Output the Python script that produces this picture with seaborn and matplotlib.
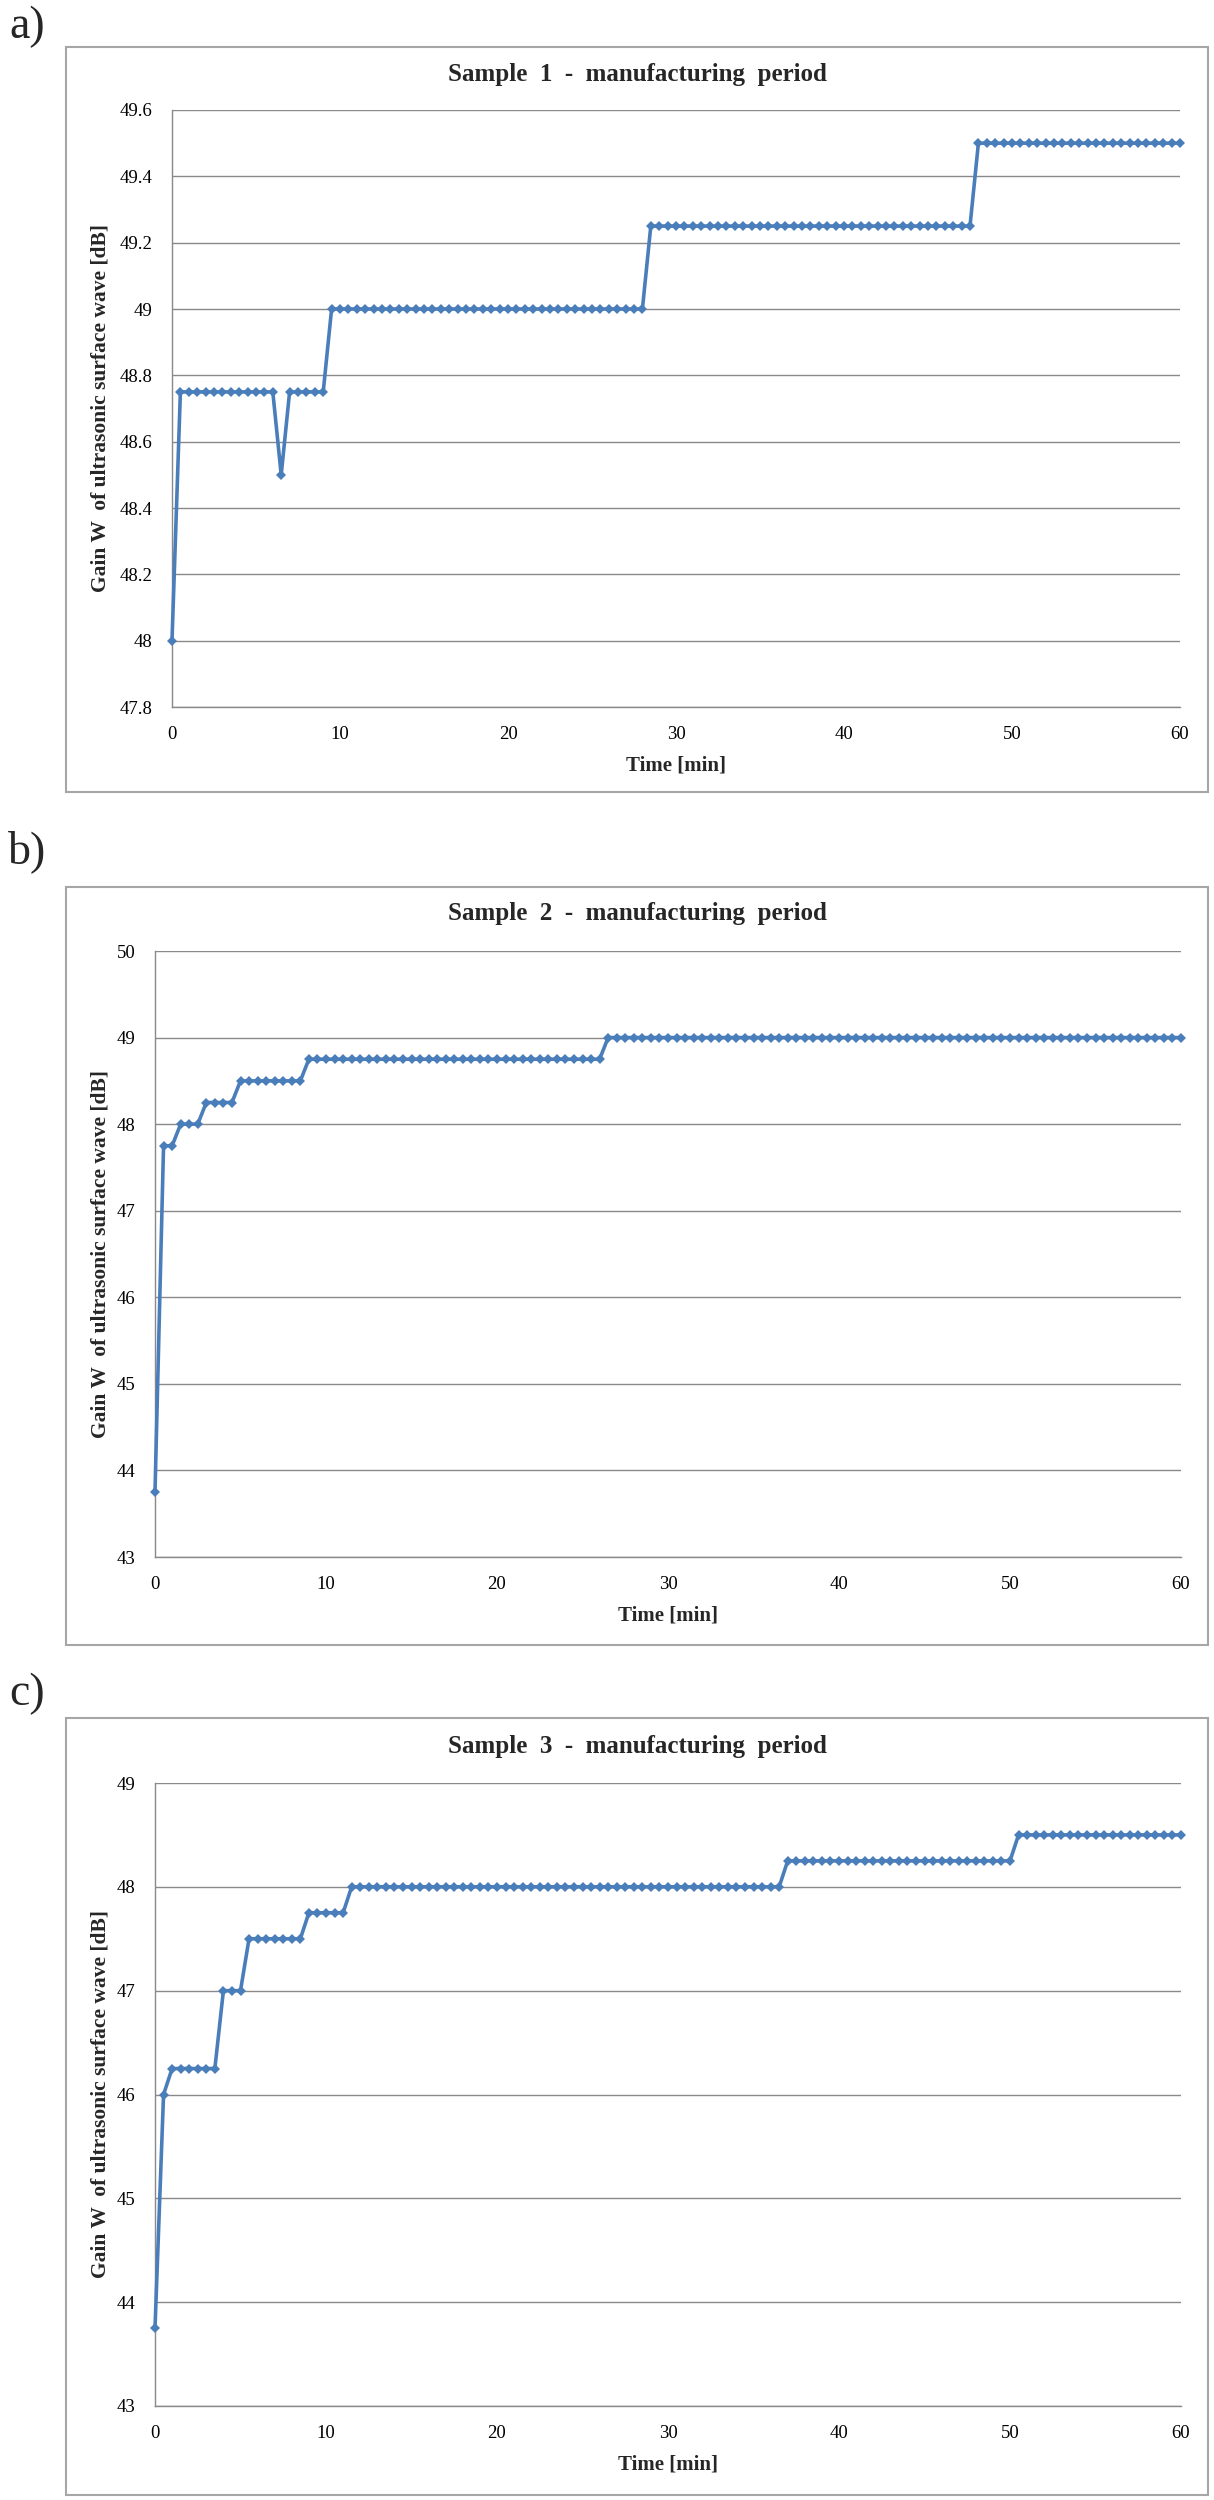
import numpy as np
import pandas as pd
import matplotlib
matplotlib.use("Agg")
import matplotlib.pyplot as plt
from matplotlib.patches import Rectangle
import seaborn as sns

# one reading every 0.5 min over the hour
time_min = np.linspace(0, 60, 121)

# gain levels [dB] and the number of consecutive readings on each level
s1_levels = [48.0, 48.75, 48.5, 48.75, 49.0, 49.25, 49.5]
s1_counts = [1, 12, 1, 5, 38, 39, 25]

s2_levels = [43.75, 47.75, 48.0, 48.25, 48.5, 48.75, 49.0]
s2_counts = [1, 2, 3, 4, 8, 35, 68]

s3_levels = [43.75, 46.0, 46.25, 47.0, 47.5, 47.75, 48.0, 48.25, 48.5]
s3_counts = [1, 1, 6, 3, 7, 5, 51, 27, 20]

titles = ["Sample  1  -  manufacturing  period",
          "Sample  2  -  manufacturing  period",
          "Sample  3  -  manufacturing  period"]
panel_letters = ["a)", "b)", "c)"]

x_ticks = [0, 10, 20, 30, 40, 50, 60]
s1_yticks = [47.8, 48.0, 48.2, 48.4, 48.6, 48.8, 49.0, 49.2, 49.4, 49.6]
s1_yticklabels = ["47.8", "48", "48.2", "48.4", "48.6", "48.8", "49", "49.2", "49.4", "49.6"]
s2_yticks = [43, 44, 45, 46, 47, 48, 49, 50]
s3_yticks = [43, 44, 45, 46, 47, 48, 49]

ylabel = "Gain W  of ultrasonic surface wave [dB]"
xlabel = "Time [min]"

W, H = 1214, 2500
LINE = "#4A7EBB"
GRID = "#898989"
FRAME = "#A6A6A6"

sns.set_style("white")
plt.rcParams["font.family"] = ["Liberation Serif", "DejaVu Serif"]

fig = plt.figure(figsize=(W / 100, H / 100), dpi=100)

# pixel layout of each panel: plot area (l, t, r, b), frame (l, t, r, b), letter y, title y
layout = [
    dict(plot=(172, 110, 1180, 707), frame=(66, 47, 1208, 792), letter=27, title=75),
    dict(plot=(155, 951, 1181, 1557), frame=(66, 887, 1208, 1645), letter=852, title=914),
    dict(plot=(155, 1783, 1181, 2406), frame=(66, 1718, 1208, 2495), letter=1694, title=1747),
]

series = [
    (np.repeat(s1_levels, s1_counts), s1_yticks, s1_yticklabels),
    (np.repeat(s2_levels, s2_counts), s2_yticks, [str(v) for v in s2_yticks]),
    (np.repeat(s3_levels, s3_counts), s3_yticks, [str(v) for v in s3_yticks]),
]

for i, (gain, yticks, ylabels) in enumerate(series):
    lay = layout[i]
    l, t, r, b = lay["plot"]
    ax = fig.add_axes([l / W, 1 - b / H, (r - l) / W, (b - t) / H])

    df = pd.DataFrame({"time": time_min, "gain": gain})
    sns.lineplot(data=df, x="time", y="gain", ax=ax, color=LINE, linewidth=2.6,
                 marker="D", markersize=5.5, markeredgewidth=0, clip_on=False, zorder=3)

    ax.set_xlim(0, 60)
    ax.set_ylim(yticks[0], yticks[-1])
    ax.set_xticks(x_ticks)
    ax.set_yticks(yticks)
    ax.set_yticklabels(ylabels)
    ax.tick_params(axis="both", length=0, labelsize=13.5, colors="black")
    ax.tick_params(axis="y", pad=14)
    ax.tick_params(axis="x", pad=14)
    ax.grid(axis="y", color=GRID, linewidth=1.0)
    ax.set_axisbelow(True)
    for side in ["top", "right"]:
        ax.spines[side].set_visible(False)
    for side in ["left", "bottom"]:
        ax.spines[side].set_color(GRID)
        ax.spines[side].set_linewidth(1.0)

    ax.set_xlabel(xlabel, fontsize=15, fontweight="bold", labelpad=8.5)
    ax.set_ylabel("")
    fig.text(101 / W, 1 - (t + b) / 2 / H, ylabel, rotation=90, ha="center", va="center",
             fontsize=15.5, fontweight="bold")

    fl, ft, fr, fb = lay["frame"]
    fig.add_artist(Rectangle((fl / W, 1 - fb / H), (fr - fl) / W, (fb - ft) / H,
                             transform=fig.transFigure, fill=False, edgecolor=FRAME, linewidth=1.5))
    fig.text((fl + fr) / 2 / W, 1 - lay["title"] / H, titles[i], ha="center", va="center",
             fontsize=18, fontweight="bold")
    fig.text(27 / W, 1 - lay["letter"] / H, panel_letters[i], ha="center", va="center", fontsize=33)

fig.savefig("out.png", dpi=100)
plt.close(fig)
